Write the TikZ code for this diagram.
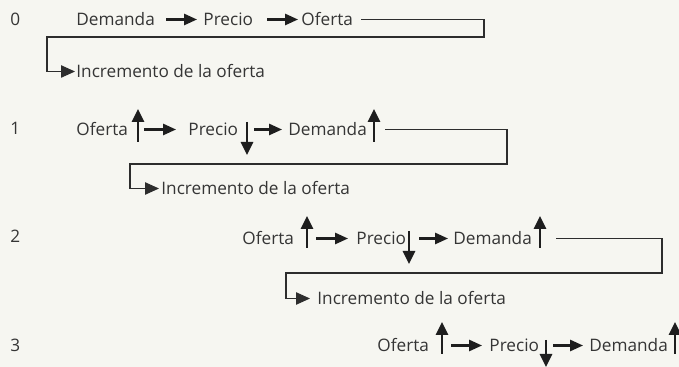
\documentclass[tikz,border=0pt]{standalone}
\usepackage{fontspec}
\setmainfont{Open Sans}
\usepackage{xcolor}
\usepackage{tikz}
\usetikzlibrary{arrows.meta, positioning, calc}
\definecolor{fondo}{RGB}{246, 246, 241}
\definecolor{tinta}{RGB}{30, 30, 30}
\definecolor{trazo}{RGB}{45, 45, 45}

\begin{document}
\begin{tikzpicture}[x=0.5pt, y=-0.5pt,
        texto/.style={inner sep=0pt, anchor=base west, text height=6.5pt, text depth=0pt, text=tinta!90, font=\fontsize{8.6pt}{10pt}\selectfont},
        flecha/.style={draw=tinta, line width=1.1pt, -{Triangle[length=6.5pt, width=5.6pt]}},
        sube/.style={draw=tinta, line width=1.3pt, -{Triangle[length=6.5pt, width=6pt]}},
        linea/.style={draw=trazo, line width=0.55pt, -{Triangle[length=7pt, width=6.2pt]}}]
        \fill[fondo] (0,0) rectangle (679,367);
        \useasboundingbox (0,0) rectangle (679,367);

        % paso 0
        \node[texto] (n0) at (10,26) {0};
        \node[texto] (dem0) at (76,26) {Demanda};
        \node[texto] (pre0) at (203,26) {Precio};
        \node[texto] (ofe0) at (301,26) {Oferta};
        \node[texto] (inc0) at (76,78) {Incremento de la oferta};
        \draw[flecha, shorten <=5.5pt, shorten >=3pt] (dem0) -- (pre0);
        \draw[flecha, shorten <=7pt, shorten >=1.5pt] (pre0) -- (ofe0);
        \coordinate (c0a) at (484,37);
        \coordinate (c0b) at (47,37);
        \draw[linea, shorten <=4pt, shorten >=0.5pt] (ofe0.east) -| (c0a) -- (c0b) |- (inc0.west);

        % paso 1
        \node[texto] (n1) at (10,135) {1};
        \node[texto] (ofe1) at (76,136) {Oferta};
        \node[texto] (pre1) at (188,136) {Precio};
        \node[texto] (dem1) at (288,136) {Demanda};
        \node[texto] (inc1) at (161,195) {Incremento de la oferta};
        \draw[sube] (138,142) -- (138,109);
        \draw[sube] (247,122) -- (247,155);
        \draw[sube] (374,142) -- (374,109);
        \draw[flecha, shorten <=8pt, shorten >=6pt] (ofe1) -- (pre1);
        \draw[flecha, shorten <=8pt, shorten >=3pt] (pre1) -- (dem1);
        \coordinate (c1a) at (507,164);
        \coordinate (c1b) at (130,164);
        \draw[linea, shorten <=9pt, shorten >=1pt] (dem1.east) -| (c1a) -- (c1b) |- (inc1.west);

        % paso 2
        \node[texto] (n2) at (10,243) {2};
        \node[texto] (ofe2) at (242,245) {Oferta};
        \node[texto] (pre2) at (356,245) {Precio};
        \node[texto] (dem2) at (453,245) {Demanda};
        \node[texto] (inc2) at (317,305) {Incremento de la oferta};
        \draw[sube] (307,248) -- (307,216);
        \draw[sube] (409,231) -- (409,264);
        \draw[sube] (540,248) -- (540,216);
        \draw[flecha, shorten <=11pt, shorten >=4pt] (ofe2) -- (pre2);
        \draw[flecha, shorten <=6.5pt, shorten >=2.5pt] (pre2) -- (dem2);
        \coordinate (c2a) at (662,273);
        \coordinate (c2b) at (286,273);
        \draw[linea, shorten <=12pt, shorten >=3.5pt] (dem2.east) -| (c2a) -- (c2b) |- (inc2.west);

        % paso 3
        \node[texto] (n3) at (10,352) {3};
        \node[texto] (ofe3) at (377,352) {Oferta};
        \node[texto] (pre3) at (489,352) {Precio};
        \node[texto] (dem3) at (589,352) {Demanda};
        \draw[sube] (442,354) -- (442,322);
        \draw[sube] (546,340) -- (546,367);
        \draw[sube] (675,354) -- (675,322);
        \draw[flecha, shorten <=11pt, shorten >=3.5pt] (ofe3) -- (pre3);
        \draw[flecha, shorten <=7pt, shorten >=3pt] (pre3) -- (dem3);
    \end{tikzpicture}
\end{document}
